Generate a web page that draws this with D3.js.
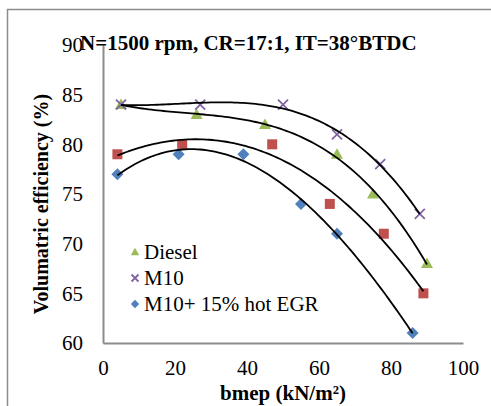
<!DOCTYPE html>
<html>
<head>
<meta charset="utf-8">
<script src="https://cdn.jsdelivr.net/npm/d3@7"></script>
<style>
  html, body { margin: 0; padding: 0; background: #fff; }
  svg { display: block; }
  text { font-family: "Liberation Serif", "Times New Roman", serif; fill: #000; }
</style>
</head>
<body>
<svg id="chart" width="491" height="406"></svg>
<script>
// bmep (kN/m²) and volumetric efficiency (%) per fuel
const dieselX = [5, 26, 45, 65, 75, 90];
const dieselY = [84, 83, 82, 79, 75, 68];
const m10X = [5, 27, 50, 65, 77, 88];
const m10Y = [84, 84, 84, 81, 78, 73];
const squareX = [4, 22, 47, 63, 78, 89];
const squareY = [79, 80, 80, 74, 71, 65];
const egrX = [4, 21, 39, 55, 65, 86];
const egrY = [77, 79, 79, 74, 71, 61];

const xTicks = [0, 20, 40, 60, 80, 100];
const yTicks = [60, 65, 70, 75, 80, 85, 90];
const legendLabels = ["Diesel", "M10", "M10+ 15% hot EGR"];

const svg = d3.select("#chart");
const x = d3.scaleLinear().domain([0, 100]).range([103, 463]);
const y = d3.scaleLinear().domain([60, 90]).range([343, 45]);

// outer chart frame
svg.append("rect").attr("x", 7.5).attr("y", 9.5).attr("width", 600).attr("height", 600)
  .attr("fill", "none").attr("stroke", "#8c8c8c").attr("stroke-width", 1.5);

// least-squares polynomial fit (normal equations)
function polyFit(xs, ys, order) {
  const n = order + 1;
  const A = Array.from({length: n}, () => new Array(n + 1).fill(0));
  xs.forEach((xv, k) => {
    for (let i = 0; i < n; i++) {
      for (let j = 0; j < n; j++) A[i][j] += Math.pow(xv, i + j);
      A[i][n] += ys[k] * Math.pow(xv, i);
    }
  });
  for (let c = 0; c < n; c++) {
    let p = c;
    for (let r = c + 1; r < n; r++) if (Math.abs(A[r][c]) > Math.abs(A[p][c])) p = r;
    [A[c], A[p]] = [A[p], A[c]];
    for (let r = 0; r < n; r++) {
      if (r === c) continue;
      const f = A[r][c] / A[c][c];
      for (let j = c; j <= n; j++) A[r][j] -= f * A[c][j];
    }
  }
  const coef = A.map((row, i) => row[n] / row[i]);
  return v => coef.reduce((s, a, i) => s + a * Math.pow(v, i), 0);
}

const series = [
  {xs: dieselX, ys: dieselY, color: "#9BBB59", shape: "triangle"},
  {xs: m10X, ys: m10Y, color: "#8064A2", shape: "cross"},
  {xs: squareX, ys: squareY, color: "#C0504D", shape: "square"},
  {xs: egrX, ys: egrY, color: "#4F81BD", shape: "diamond"}
];

function drawMarker(g, shape, color, cx, cy, s) {
  if (shape === "triangle") {
    g.append("path").attr("d", `M${cx},${cy - s * 0.6}L${cx + s * 0.6},${cy + s * 0.45}L${cx - s * 0.6},${cy + s * 0.45}Z`)
      .attr("fill", color);
  } else if (shape === "square") {
    g.append("rect").attr("x", cx - s / 2).attr("y", cy - s / 2).attr("width", s).attr("height", s)
      .attr("fill", color);
  } else if (shape === "diamond") {
    const h = s * 0.6;
    g.append("path").attr("d", `M${cx},${cy - h}L${cx + h},${cy}L${cx},${cy + h}L${cx - h},${cy}Z`)
      .attr("fill", color);
  } else {
    const h = s / 2;
    g.append("path").attr("d", `M${cx - h},${cy - h}L${cx + h},${cy + h}M${cx - h},${cy + h}L${cx + h},${cy - h}`)
      .attr("stroke", color).attr("stroke-width", 1.8).attr("fill", "none");
  }
}

// markers
const markers = svg.append("g");
series.forEach(s => {
  s.xs.forEach((xv, i) => drawMarker(markers, s.shape, s.color, x(xv), y(s.ys[i]), 10));
});

// cubic trendlines
const line = d3.line().x(d => x(d[0])).y(d => y(d[1]));
series.forEach(s => {
  const f = polyFit(s.xs, s.ys, 3);
  const x0 = d3.min(s.xs), x1 = d3.max(s.xs);
  const pts = d3.range(0, 101).map(i => { const v = x0 + (x1 - x0) * i / 100; return [v, f(v)]; });
  svg.append("path").attr("d", line(pts)).attr("fill", "none")
    .attr("stroke", "#000").attr("stroke-width", 1.8);
});

// axes
const xAxis = svg.append("g").attr("transform", `translate(0,${y(60)})`)
  .call(d3.axisBottom(x).tickValues(xTicks).tickSize(0).tickPadding(17));
const yAxis = svg.append("g").attr("transform", `translate(${x(0)},0)`)
  .call(d3.axisLeft(y).tickValues(yTicks).tickSize(0).tickPadding(20));
[xAxis, yAxis].forEach(a => {
  a.select(".domain").attr("stroke", "#8c8c8c").attr("stroke-width", 2);
  a.selectAll("text").style("font-family", "'Liberation Serif', serif").style("font-size", "21px").attr("fill", "#000");
});

// axis titles
svg.append("text").attr("x", 283).attr("y", 400).attr("text-anchor", "middle")
  .style("font-size", "21px").style("font-weight", "bold").text("bmep (kN/m²)");
svg.append("text").attr("transform", "translate(48,204) rotate(-90)").attr("text-anchor", "middle")
  .style("font-size", "20px").style("font-weight", "bold").text("Volumatric efficiency (%)");

// chart title
svg.append("text").attr("x", 80).attr("y", 50)
  .style("font-size", "21px").style("font-weight", "bold").text("N=1500 rpm, CR=17:1, IT=38°BTDC");

// legend
const legendSeries = [series[0], series[1], series[3]];
legendSeries.forEach((s, i) => {
  const ly = 252 + i * 26;
  drawMarker(svg, s.shape, s.color, 135, ly, 7);
  svg.append("text").attr("x", 144).attr("y", ly + 7).style("font-size", "21px").text(legendLabels[i]);
});
</script>
</body>
</html>
